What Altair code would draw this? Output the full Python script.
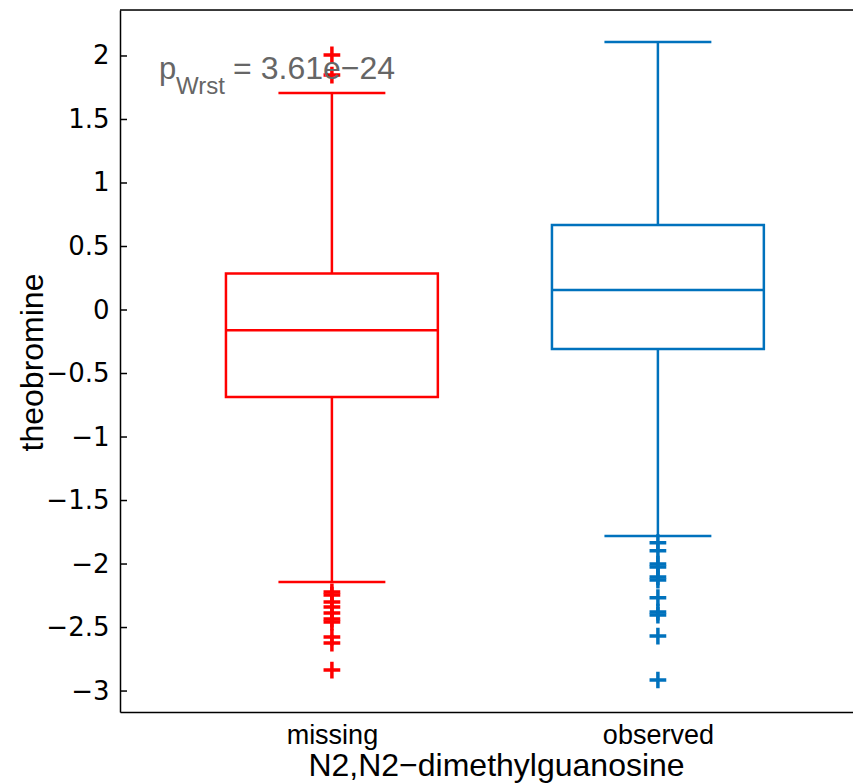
import altair as alt
import pandas as pd

# ---- data ----
groups = ["missing", "observed"]
positions = [1, 2]
lower_whisker = [-2.142, -1.779]
q1 = [-0.684, -0.307]
median = [-0.160, 0.157]
q3 = [0.288, 0.669]
upper_whisker = [1.709, 2.110]
missing_outliers = [2.008, 1.850, -2.220, -2.244, -2.299, -2.339, -2.386,
                    -2.433, -2.457, -2.575, -2.622, -2.835]
observed_outliers = [-1.832, -1.895, -2.000, -2.024, -2.102, -2.126,
                     -2.265, -2.378, -2.402, -2.567, -2.913]
y_ticks = [-3, -2.5, -2, -1.5, -1, -0.5, 0, 0.5, 1, 1.5, 2]
x_labels = ["missing", "observed"]
colors = ["#FF0000", "#0072BD"]

annot_text = ["p", "Wrst", "= 3.61e\u221224"]
annot_x = [0.470, 0.522, 0.697]
annot_y = [1.815, 1.700, 1.815]
annot_size = [31, 24, 32]

x_domain = [0.35, 2.623]
y_domain = [-3.165, 2.362]

# ---- tables ----
box_df = pd.DataFrame({
    "group": groups, "pos": positions, "lo": lower_whisker, "q1": q1,
    "med": median, "q3": q3, "hi": upper_whisker,
})
out_df = pd.DataFrame({
    "group": ["missing"] * len(missing_outliers) + ["observed"] * len(observed_outliers),
    "pos": [positions[0]] * len(missing_outliers) + [positions[1]] * len(observed_outliers),
    "v": missing_outliers + observed_outliers,
})
tick_df = pd.DataFrame({"v": y_ticks})
annot_df = pd.DataFrame({"t": annot_text, "x": annot_x, "y": annot_y, "s": annot_size})
frame_df = pd.DataFrame({"x0": [x_domain[0]], "x1": [x_domain[1]], "y": [y_domain[1]]})

FONT = "Liberation Sans"
x_scale = alt.Scale(domain=x_domain, nice=False, zero=False)
y_scale = alt.Scale(domain=y_domain, nice=False, zero=False)

x_axis = alt.Axis(
    values=positions,
    labelExpr="datum.value == 1 ? '%s' : '%s'" % (x_labels[0], x_labels[1]),
    title="N2,N2\u2212dimethylguanosine",
    grid=False, ticks=False, domain=True, domainColor="black", domainWidth=1.5,
    labelFont=FONT, labelFontSize=27, labelColor="black", labelPadding=10,
    titleFont=FONT, titleFontSize=32, titleFontWeight="normal", titleColor="black",
    titleBaseline="alphabetic", titleAnchor="middle", titleX=376, titleY=63,
)
y_axis = alt.Axis(
    values=y_ticks, format="~g", title="theobromine",
    grid=False, ticks=False, domain=True, domainColor="black", domainWidth=1.5,
    labelFont="DejaVu Sans", labelFontSize=26, labelColor="black", labelPadding=11,
    titleFont=FONT, titleFontSize=32, titleFontWeight="normal", titleColor="black",
    titleAngle=270, titleBaseline="alphabetic", titleAlign="center",
    titleX=-78, titleY=352,
)

color = alt.Color("group:N", scale=alt.Scale(domain=groups, range=colors), legend=None)

base = alt.Chart(box_df).transform_calculate(
    xl="datum.pos - 0.325", xr="datum.pos + 0.325",
    cl="datum.pos - 0.164", cr="datum.pos + 0.164",
)

box = base.mark_rect(fillOpacity=0, strokeWidth=2.5).encode(
    x=alt.X("xl:Q", scale=x_scale, axis=x_axis),
    x2="xr:Q",
    y=alt.Y("q1:Q", scale=y_scale, axis=y_axis),
    y2="q3:Q",
    stroke=color,
)
med = base.mark_rule(strokeWidth=2.5).encode(
    x=alt.X("xl:Q", scale=x_scale, axis=x_axis), x2="xr:Q",
    y=alt.Y("med:Q", scale=y_scale, axis=y_axis), color=color,
)
whisk_hi = base.mark_rule(strokeWidth=2.5).encode(
    x=alt.X("pos:Q", scale=x_scale, axis=x_axis),
    y=alt.Y("q3:Q", scale=y_scale, axis=y_axis), y2="hi:Q", color=color,
)
whisk_lo = base.mark_rule(strokeWidth=2.5).encode(
    x=alt.X("pos:Q", scale=x_scale, axis=x_axis),
    y=alt.Y("lo:Q", scale=y_scale, axis=y_axis), y2="q1:Q", color=color,
)
cap_hi = base.mark_rule(strokeWidth=2.5).encode(
    x=alt.X("cl:Q", scale=x_scale, axis=x_axis), x2="cr:Q",
    y=alt.Y("hi:Q", scale=y_scale, axis=y_axis), color=color,
)
cap_lo = base.mark_rule(strokeWidth=2.5).encode(
    x=alt.X("cl:Q", scale=x_scale, axis=x_axis), x2="cr:Q",
    y=alt.Y("lo:Q", scale=y_scale, axis=y_axis), color=color,
)
outliers = alt.Chart(out_df).mark_point(
    shape="M-1,0L1,0M0,-1L0,1", filled=False, strokeWidth=3.5, size=280, opacity=1,
).encode(
    x=alt.X("pos:Q", scale=x_scale, axis=x_axis),
    y=alt.Y("v:Q", scale=y_scale, axis=y_axis),
    stroke=color,
)
ticks = alt.Chart(tick_df).mark_rule(color="black", strokeWidth=1.5).encode(
    y=alt.Y("v:Q", scale=y_scale, axis=y_axis),
    x=alt.value(0), x2=alt.value(7),
)
top_line = alt.Chart(frame_df).mark_rule(color="black", strokeWidth=1.5).encode(
    x=alt.X("x0:Q", scale=x_scale, axis=x_axis), x2="x1:Q",
    y=alt.Y("y:Q", scale=y_scale, axis=y_axis),
)
annot = alt.Chart(annot_df).mark_text(
    align="left", baseline="alphabetic", font=FONT, color="#666666",
).encode(
    x=alt.X("x:Q", scale=x_scale, axis=x_axis),
    y=alt.Y("y:Q", scale=y_scale, axis=y_axis),
    text="t:N",
    size=alt.Size("s:Q", scale=None, legend=None),
)

chart = alt.layer(
    box, med, whisk_hi, whisk_lo, cap_hi, cap_lo, outliers, ticks, top_line, annot
).properties(
    width=741, height=702,
    autosize=alt.AutoSizeParams(type="none"),
    padding={"left": 112, "top": 2, "right": -8, "bottom": 74},
).configure_view(stroke=None).configure(background="white")

chart.save("out.html", embed_options={"renderer": "svg", "actions": False})
